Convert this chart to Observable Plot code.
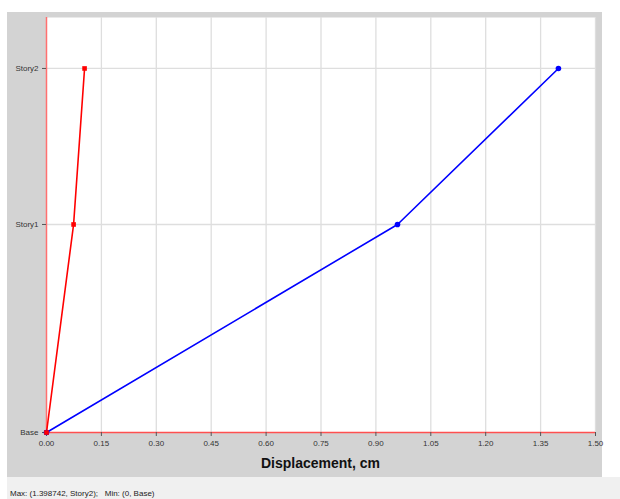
<!DOCTYPE html>
<html>
<head>
<meta charset="utf-8">
<script src="https://cdn.jsdelivr.net/npm/d3@7"></script>
<script src="https://cdn.jsdelivr.net/npm/@observablehq/plot@0.6"></script>
<style>
  html, body { margin: 0; padding: 0; background: #ffffff; }
  #wrap { position: relative; width: 620px; height: 499px; overflow: hidden; font-family: "Liberation Sans", Arial, sans-serif; }
  #panel { position: absolute; left: 7px; top: 12px; width: 595px; height: 465px; background: #d3d3d3; }
  #status { position: absolute; left: 7px; top: 477px; width: 613px; height: 22px; background: #f0f0f0; }
  #status span { position: absolute; left: 3px; top: 12px; font-size: 8px; line-height: 9px; color: #222; white-space: pre; }
  #chart { position: absolute; left: 0; top: 0; }
  #xtitle { position: absolute; left: 46px; width: 549px; top: 455px; text-align: center; font-weight: bold; font-size: 14px; color: #111; }
</style>
</head>
<body>
<div id="wrap">
  <div id="panel"></div>
  <div id="status"><span>Max: (1.398742, Story2);   Min: (0, Base)</span></div>
  <div id="chart"></div>
  <div id="xtitle">Displacement, cm</div>
</div>
<script>
// Story levels and elevations
const stories = ["Base", "Story1", "Story2"];
const elevations = [0, 4, 7];
// Displacement series (cm)
const dispBlue = [0, 0.959, 1.3987];
const dispRed = [0, 0.074, 0.104];
// X tick values
const xTicks = [0, 0.15, 0.30, 0.45, 0.60, 0.75, 0.90, 1.05, 1.20, 1.35, 1.50];

const blue = stories.map((s, i) => ({story: s, elev: elevations[i], x: dispBlue[i]}));
const red = stories.map((s, i) => ({story: s, elev: elevations[i], x: dispRed[i]}));

const chart = Plot.plot({
  width: 620,
  height: 477,
  marginLeft: 46,
  marginRight: 25,
  marginTop: 17,
  marginBottom: 45,
  style: {background: "transparent", fontFamily: "'Liberation Sans', Arial, sans-serif", fontSize: "8px", color: "#333"},
  x: {domain: [0, 1.5]},
  y: {domain: [0, 7.98]},
  marks: [
    Plot.frame({fill: "white", stroke: null}),
    Plot.gridX(xTicks.filter(d => d > 0), {stroke: "#dedede", strokeOpacity: 1, strokeWidth: 1.3}),
    Plot.gridY(elevations.filter(d => d > 0), {stroke: "#dedede", strokeOpacity: 1, strokeWidth: 1.3}),
    Plot.ruleX([0], {stroke: "#ff7070", strokeWidth: 1.5}),
    Plot.ruleY([0], {stroke: "#ff5050", strokeWidth: 1.5}),
    Plot.axisX(xTicks, {tickFormat: d => d.toFixed(2), tickSize: 4, tickPadding: 4, label: null, stroke: "#555"}),
    Plot.axisY(elevations, {tickFormat: (d, i) => stories[i], tickSize: 4, tickPadding: 4, label: null, stroke: "#555"}),
    Plot.line(red, {x: "x", y: "elev", stroke: "#ff0000", strokeWidth: 1.6}),
    Plot.dot(red, {x: "x", y: "elev", symbol: "square", r: 2.6, fill: "#ff0000", stroke: null}),
    Plot.line(blue, {x: "x", y: "elev", stroke: "#0000ff", strokeWidth: 1.6}),
    Plot.dot(blue, {x: "x", y: "elev", symbol: "circle", r: 2.8, fill: "#0000ff", stroke: null}),
    Plot.dot(red.slice(0, 1), {x: "x", y: "elev", symbol: "square", r: 2.6, fill: "#ff0000", stroke: null})
  ]
});
document.getElementById("chart").appendChild(chart);
</script>
</body>
</html>
